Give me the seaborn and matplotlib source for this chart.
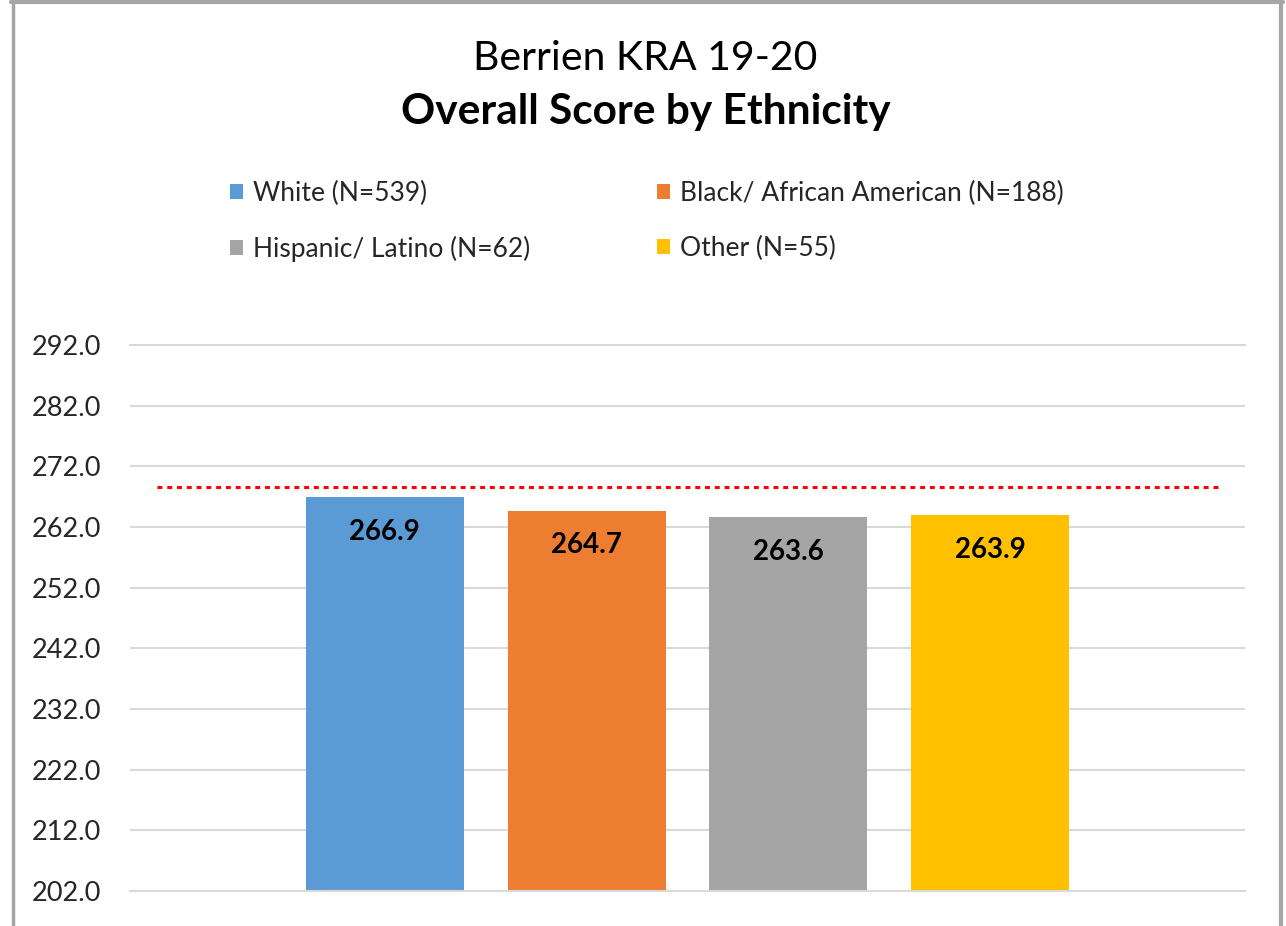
import pandas as pd
import seaborn as sns
import matplotlib.pyplot as plt
from matplotlib.lines import Line2D

# Data
groups = ["White (N=539)", "Black/ African American (N=188)",
          "Hispanic/ Latino (N=62)", "Other (N=55)"]
scores = [266.9, 264.7, 263.6, 263.9]
colors = ["#5B9BD5", "#ED7D31", "#A5A5A5", "#FFC000"]
target = 268.6
yticks = [202, 212, 222, 232, 242, 252, 262, 272, 282, 292]

df = pd.DataFrame({"measure": ["Overall"] * len(groups),
                   "group": groups, "score": scores})

sns.set_style("white")
plt.rcParams["font.family"] = ["Lato", "DejaVu Sans"]

fig = plt.figure(figsize=(12.86, 9.26), dpi=100)
ax = fig.add_axes([130 / 1286, 1 - 891 / 926, 1115 / 1286, 546 / 926])

sns.barplot(data=df, x="measure", y="score", hue="group", hue_order=groups,
            palette=dict(zip(groups, colors)), width=0.724, gap=0.217,
            saturation=1, linewidth=0, ax=ax)

ax.set_ylim(yticks[0], yticks[-1])
ax.set_yticks(yticks)
ax.set_yticklabels([f"{t:.1f}" for t in yticks], fontsize=19.5, color="#262626")
ax.tick_params(axis="y", length=0, pad=21)
ax.set_xticks([])
ax.set_xlabel("")
ax.set_ylabel("")
ax.grid(axis="y", color="#D9D9D9", linewidth=1.5)
ax.set_axisbelow(True)
for side in ["left", "right"]:
    ax.spines[side].set_visible(False)
for side in ["top", "bottom"]:
    ax.spines[side].set_color("#D9D9D9")
    ax.spines[side].set_linewidth(1.5)

# dotted benchmark line
ax.axhline(target, xmin=0.024, xmax=0.979, color="red", linewidth=2.2,
           linestyle=(0, (1.6, 1.6)), zorder=3)

# value labels inside the bar tops
for cont in ax.containers:
    for p in cont:
        ax.annotate(f"{p.get_height():.1f}",
                    xy=(p.get_x() + p.get_width() / 2, p.get_height()),
                    xytext=(0, -25), textcoords="offset points",
                    ha="center", va="center", fontsize=20, fontweight="bold",
                    color="black")

# legend: two columns, row order White/Black then Hispanic/Other
handles, labels = ax.get_legend_handles_labels()
ax.get_legend().remove()
order = [0, 2, 1, 3]
fig.legend([handles[i] for i in order], [labels[i] for i in order],
           loc="upper left", bbox_to_anchor=(230 / 1286, 1 - 181 / 926),
           ncol=2, frameon=False, fontsize=19, borderpad=0, borderaxespad=0,
           handlelength=0.5, handleheight=0.5, handletextpad=0.38,
           labelspacing=1.12, columnspacing=4.8, labelcolor="#262626")

# titles
fig.text(0.502, 1 - 59 / 926, "Berrien KRA 19-20", ha="center", va="center",
         fontsize=29.5, color="black")
fig.text(0.502, 1 - 112 / 926, "Overall Score by Ethnicity", ha="center",
         va="center", fontsize=30.5, fontweight="bold", color="black")

# outer chart border (cropped at the bottom)
bc = "#A6A6A6"
fig.add_artist(Line2D([12.5 / 1286, 12.5 / 1286], [0, 1 - 1.5 / 926], color=bc, lw=2.5))
fig.add_artist(Line2D([1281 / 1286, 1281 / 1286], [0, 1 - 1.5 / 926], color=bc, lw=3))
fig.add_artist(Line2D([11 / 1286, 1283 / 1286], [1 - 1.5 / 926, 1 - 1.5 / 926], color=bc, lw=3))

plt.savefig("out.png", dpi=100)
